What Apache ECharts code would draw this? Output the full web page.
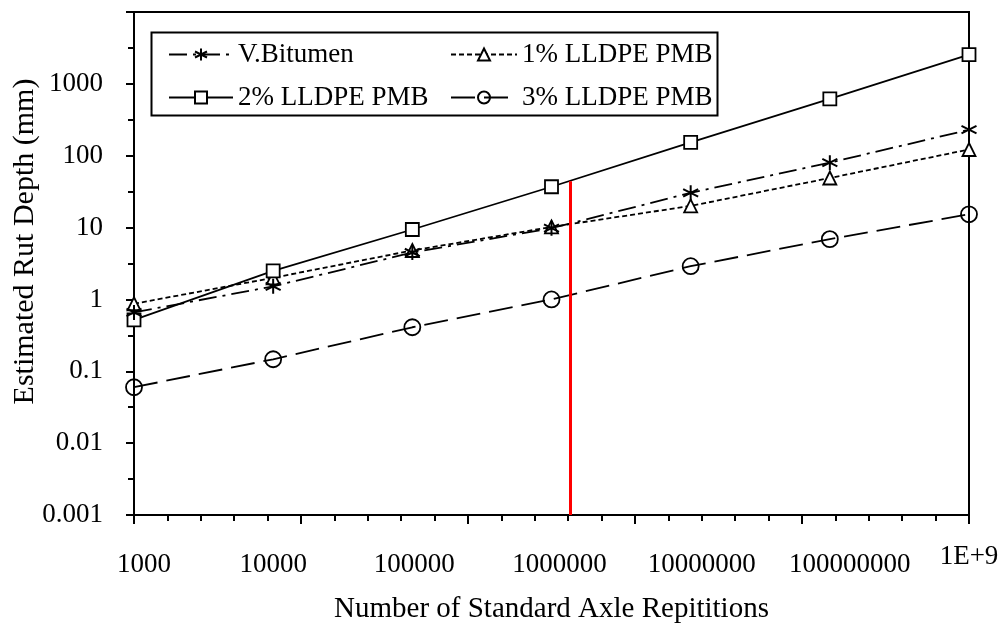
<!DOCTYPE html>
<html>
<head>
    <meta charset="utf-8">
    <title>Estimated Rut Depth</title>
    <script src="https://cdn.jsdelivr.net/npm/echarts@6/dist/echarts.min.js"></script>
    <style>
        html, body { margin: 0; padding: 0; background: #fff; }
        #main { width: 1002px; height: 626px; }
    </style>
</head>
<body>
<div id="main"></div>
<script type="text/javascript">
    // data
    var repetitions = [1000, 10000, 100000, 1000000, 10000000, 100000000, 1000000000];
    var xLabels = ['1000', '10000', '100000', '1000000', '10000000', '100000000', '1E+9'];
    var yLabels = ['0.001', '0.01', '0.1', '1', '10', '100', '1000', ''];

    var vBitumen = [0.66, 1.52, 4.5, 9.8, 30.5, 80, 230];
    var lldpe1 = [0.87, 2.0, 4.8, 10.2, 20, 49, 122];
    var lldpe2 = [0.52, 2.5, 9.4, 37, 153, 620, 2550];
    var lldpe3 = [0.06, 0.147, 0.41, 1.0, 2.9, 6.9, 15.3];

    var redLineX = 1360000;
    var redLineTop = 44;

    var font = '"Liberation Serif", "Times New Roman", serif';
    // the x labels in the original sit a little off their ticks (text boxes)
    var labelShift = [10, 0, 2, 8, 11, 20, 0];

    function pairs(ys) {
        var out = [];
        for (var i = 0; i < repetitions.length; i++) {
            out.push([repetitions[i], ys[i]]);
        }
        return out;
    }

    var asterisk = 'path://M0,-10L0,10M-8.66,-5L8.66,5M-8.66,5L8.66,-5';

    var xRich = {};
    for (var k = 0; k < labelShift.length; k++) {
        xRich['l' + k] = {
            fontFamily: font, fontSize: 27, color: '#000',
            padding: [k === labelShift.length - 1 ? 0 : 8, 0, 0, labelShift[k] * 2]
        };
    }

    var myChart = echarts.init(document.getElementById('main'));

    var option = {
        animation: false,
        backgroundColor: '#fff',
        textStyle: { fontFamily: font, color: '#000' },
        grid: {
            left: 134, right: 33, top: 12, bottom: 111,
            outerBoundsMode: 'none',
            containLabel: false,
            show: true, borderColor: '#000', borderWidth: 2, backgroundColor: 'transparent'
        },
        graphic: [{
            type: 'rect',
            left: 149, top: 30,
            shape: { width: 566, height: 83 },
            style: { fill: 'none', stroke: '#000', lineWidth: 2 },
            z: 10
        }],
        legend: [{
            orient: 'vertical',
            left: 163, top: 36,
            itemWidth: 64, itemHeight: 15, itemGap: 16,
            textStyle: { fontFamily: font, fontSize: 27, color: '#000' },
            data: ['V.Bitumen', '2% LLDPE PMB']
        }, {
            orient: 'vertical',
            left: 445, top: 36,
            itemWidth: 66, itemHeight: 15, itemGap: 16,
            textStyle: { fontFamily: font, fontSize: 27, color: '#000' },
            data: ['1% LLDPE PMB', '3% LLDPE PMB']
        }],
        xAxis: [{
            type: 'log',
            logBase: 10,
            min: 1000, max: 1000000000,
            name: 'Number of Standard Axle Repititions',
            nameLocation: 'middle',
            nameMoveOverlap: false,
            nameGap: 80,
            nameTextStyle: { fontFamily: font, fontSize: 29, color: '#000' },
            axisLine: { show: false },
            axisTick: { show: false },
            splitLine: { show: false },
            axisLabel: {
                margin: 28,
                fontFamily: font, fontSize: 27, color: '#000',
                formatter: function (v) {
                    var i = Math.round(Math.log(v) / Math.LN10) - 3;
                    return '{l' + i + '|' + xLabels[i] + '}';
                },
                rich: xRich
            }
        }, {
            // tick marks only
            type: 'value',
            min: 0, max: 5, interval: 1,
            position: 'bottom',
            axisLine: { show: false },
            axisLabel: { show: false },
            splitLine: { show: false },
            axisTick: { show: true, length: 9, lineStyle: { color: '#000', width: 2 } },
            minorTick: { show: true, splitNumber: 5, length: 6, lineStyle: { color: '#000', width: 2 } }
        }],
        yAxis: [{
            type: 'log',
            logBase: 10,
            min: 0.001, max: 10000,
            name: 'Estimated Rut Depth (mm)',
            nameLocation: 'middle',
            nameMoveOverlap: false,
            nameGap: 94,
            nameTextStyle: { fontFamily: font, fontSize: 30, color: '#000', padding: [0, 0, 0, 44] },
            axisLine: { show: false },
            axisTick: { show: true, length: 8, lineStyle: { color: '#000', width: 2 } },
            splitLine: { show: false },
            axisLabel: {
                margin: 31,
                fontFamily: font, fontSize: 27, color: '#000',
                formatter: function (v) {
                    return yLabels[Math.round(Math.log(v) / Math.LN10) + 3];
                }
            }
        }, {
            // half-decade minor ticks
            type: 'value',
            min: -3, max: 4, interval: 1,
            position: 'left',
            axisLine: { show: false },
            axisLabel: { show: false },
            splitLine: { show: false },
            axisTick: { show: false },
            minorTick: { show: true, splitNumber: 2, length: 6, lineStyle: { color: '#000', width: 2 } }
        }],
        series: [{
            name: 'V.Bitumen',
            type: 'line',
            data: pairs(vBitumen),
            symbol: asterisk,
            symbolSize: 15,
            itemStyle: { color: '#000', borderColor: '#000', borderWidth: 2 },
            lineStyle: { color: '#000', width: 1.8, type: [18, 6, 3, 6] },
            markLine: {
                silent: true,
                symbol: ['none', 'none'],
                label: { show: false },
                lineStyle: { color: '#ff0000', width: 3, type: 'solid' },
                data: [[{ coord: [redLineX, 0.001] }, { coord: [redLineX, redLineTop] }]]
            },
            z: 3
        }, {
            name: '1% LLDPE PMB',
            type: 'line',
            data: pairs(lldpe1),
            symbol: 'triangle',
            symbolSize: 13,
            itemStyle: { color: '#fff', borderColor: '#000', borderWidth: 1.8 },
            lineStyle: { color: '#000', width: 1.8, type: [5, 3] },
            z: 2
        }, {
            name: '2% LLDPE PMB',
            type: 'line',
            data: pairs(lldpe2),
            symbol: 'rect',
            symbolSize: 13,
            itemStyle: { color: '#fff', borderColor: '#000', borderWidth: 1.8 },
            lineStyle: { color: '#000', width: 1.8, type: 'solid' },
            z: 2
        }, {
            name: '3% LLDPE PMB',
            type: 'line',
            data: pairs(lldpe3),
            symbol: 'circle',
            symbolSize: 16,
            itemStyle: { color: 'rgba(255,255,255,0)', borderColor: '#000', borderWidth: 1.8 },
            lineStyle: { color: '#000', width: 1.8, type: [24, 9] },
            z: 2
        }]
    };

    myChart.setOption(option);
</script>
</body>
</html>
